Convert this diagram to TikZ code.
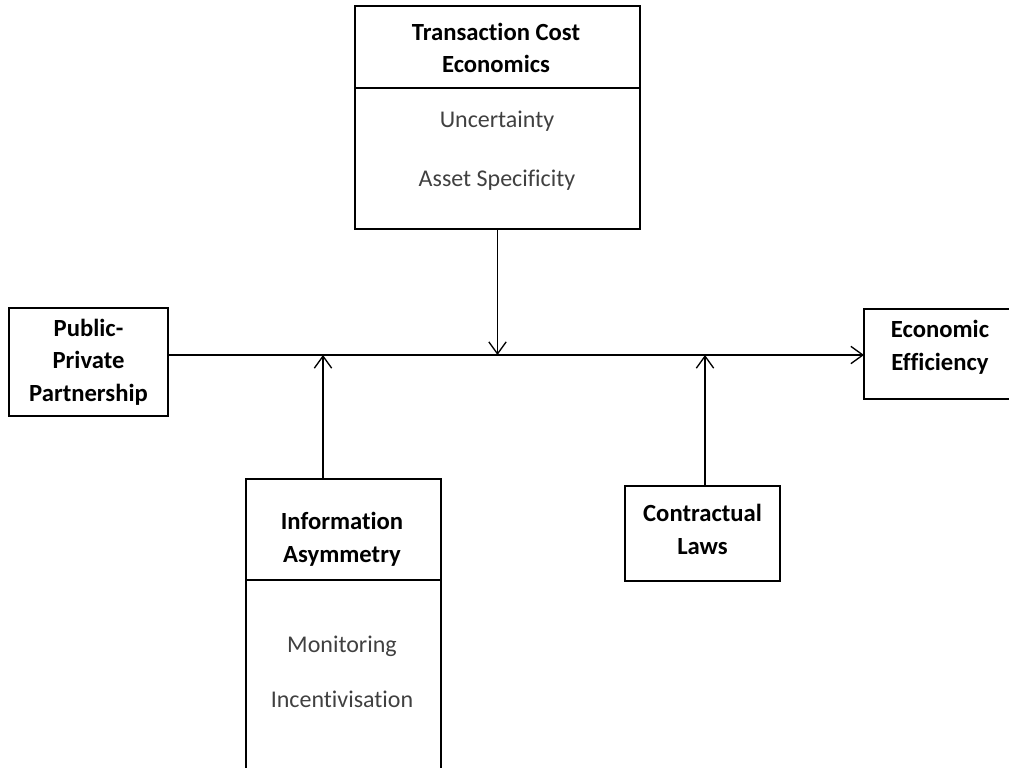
\documentclass[tikz,border=0pt]{standalone}
\usepackage{fontspec}
\setmainfont{Carlito}[Ligatures=NoCommon]
\usetikzlibrary{arrows.meta}

\tikzset{
  box/.style={draw, line width=1pt, inner sep=0pt, outer sep=0pt},
  head/.style={font=\bfseries\fontsize{18.5}{24.5}\selectfont, align=center, text=black},
  item/.style={font=\fontsize{18}{24.5}\selectfont, text=black!75},
  conn/.style={line width=1pt, -{Straight Barb[length=9pt,width=13pt]}}
}

\begin{document}
\begin{tikzpicture}[x=0.75pt,y=-0.75pt]
\useasboundingbox (0,0) rectangle (1009,767);
\clip (0,0) rectangle (1009,767);

% boxes
\node[box, minimum width=213.75pt, minimum height=167.25pt] (tce) at (497.5,117.5) {};
\node[box, minimum width=119.25pt, minimum height=81pt, head] (ppp) at (88.5,362) {Public-\\Private\\Partnership};
\node[box, minimum width=117pt, minimum height=67.5pt] (ee) at (942,354) {};
\node[box, minimum width=146.25pt, minimum height=240.75pt] (ia) at (343.5,639.5) {};
\node[box, minimum width=116.25pt, minimum height=71.25pt] (cl) at (702.5,533.5) {};

% dividers
\draw[line width=1pt] (tce.west |- 0,88) -- (tce.east |- 0,88);
\draw[line width=1pt] (ia.west |- 0,580) -- (ia.east |- 0,580);

% texts
\node[head] (tcehead) at (496,48) {Transaction Cost\\Economics};
\node[item] (unc) at (497,121) {Uncertainty};
\node[item] (asp) at (497,180) {Asset Specificity};
\node[head] (eehead) at (940,347) {Economic\\Efficiency};
\node[head] (iahead) at (342,539.5) {Information\\Asymmetry};
\node[item] (mon) at (342,646) {Monitoring};
\node[item] (inc) at (342,699) {Incentivisation};
\node[head] (clhead) at (702.5,529.5) {Contractual\\Laws};

% joins on the main line
\coordinate (tcejoin) at (497.5,355);
\coordinate (iajoin) at (323,355);
\coordinate (cljoin) at (705,355);

% connectors
\draw[conn] (ppp.east |- tcejoin) -- (ee.west |- tcejoin);
\draw[conn] (tce.south) -- (tcejoin);
\draw[conn] (iajoin |- ia.north) -- (iajoin);
\draw[conn] (cljoin |- cl.north) -- (cljoin);
\end{tikzpicture}
\end{document}
